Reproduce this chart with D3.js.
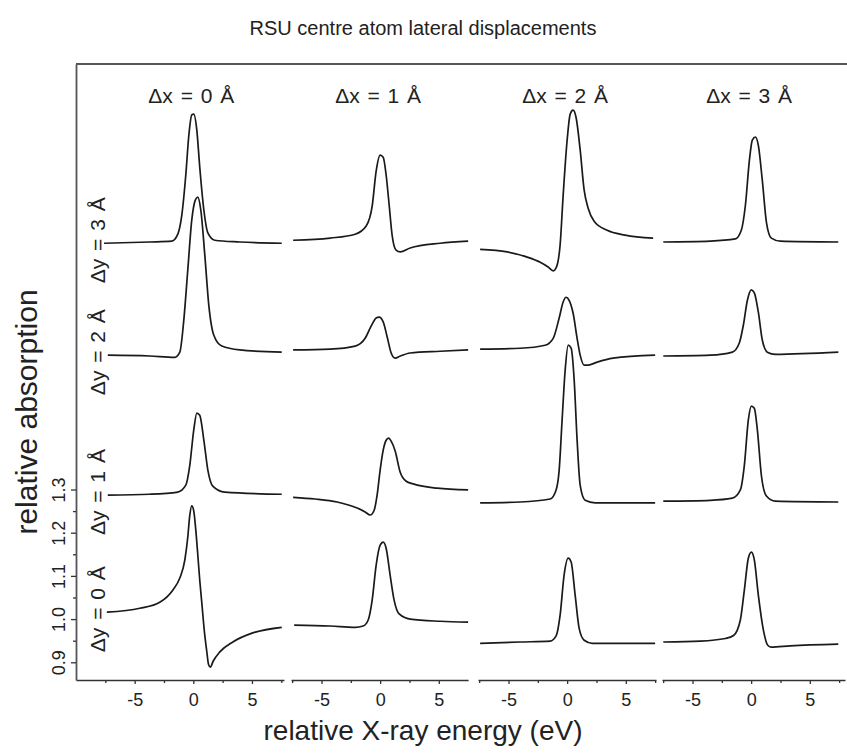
<!DOCTYPE html>
<html>
<head>
<meta charset="utf-8">
<script src="https://cdn.jsdelivr.net/npm/d3@7"></script>
<style>
  body { margin: 0; background: #fff; }
  svg { font-family: "Liberation Sans", Arial, sans-serif; }
</style>
</head>
<body>
<div id="chart"></div>
<script>
// labels and ticks
var title = 'RSU centre atom lateral displacements';
var colLabels = ['Δx = 0 Å', 'Δx = 1 Å', 'Δx = 2 Å', 'Δx = 3 Å'];
var rowLabels = ['Δy = 0 Å', 'Δy = 1 Å', 'Δy = 2 Å', 'Δy = 3 Å'];
var xTicks = [-5, 0, 5];
var xMinorTicks = [-7.5, -2.5, 2.5, 7.5];
var yTicks = [0.9, 1.0, 1.1, 1.2, 1.3];
var yMinorTicks = [0.95, 1.05, 1.15, 1.25];
// energy range shown in each column (eV)
var panelDomains = [[-10, 7.73], [-7.6, 7.5], [-7.6, 7.57], [-7.6, 8.0]];

// spectra: [relative energy (eV), relative absorption], stacked as drawn
var dy0dx0 = [[-7.37,1.016],[-4.56,1.025],[-2.86,1.039],[-1.75,1.067],[-1.15,1.095],[-0.72,1.137],[-0.47,1.190],[-0.3,1.240],[-0.13,1.262],[0.04,1.250],[0.2,1.21],[0.38,1.15],[0.55,1.09],[0.75,1.03],[0.95,0.97],[1.15,0.925],[1.3,0.895],[1.45,0.889],[1.7,0.903],[2.26,0.924],[3.37,0.947],[5.07,0.968],[7.54,0.981]];
var dy0dx1 = [[-7.33,0.986],[-4.26,0.984],[-2.13,0.981],[-1.45,0.984],[-1.02,0.998],[-0.68,1.044],[-0.34,1.125],[0,1.171],[0.26,1.178],[0.51,1.164],[0.85,1.102],[1.19,1.044],[1.62,1.012],[2.56,1.0],[5.12,0.995],[7.5,0.993]];
var dy0dx2 = [[-7.42,0.944],[-4.0,0.947],[-1.45,0.949],[-0.94,0.961],[-0.6,1.009],[-0.26,1.102],[0.09,1.141],[0.34,1.132],[0.68,1.056],[1.02,0.979],[1.45,0.951],[2.13,0.944],[4.5,0.944],[7.5,0.944]];
var dy0dx3 = [[-7.49,0.947],[-4.33,0.949],[-2.2,0.955],[-1.5,0.962],[-0.92,0.998],[-0.58,1.067],[-0.24,1.141],[0.02,1.155],[0.27,1.137],[0.61,1.056],[1.04,0.975],[1.4,0.940],[1.7,0.935],[3.34,0.938],[7.43,0.942]];

var dy1dx0 = [[-7.29,1.287],[-3.71,1.289],[-1.32,1.294],[-0.64,1.31],[-0.3,1.356],[0.04,1.438],[0.3,1.477],[0.55,1.472],[0.9,1.414],[1.24,1.345],[1.66,1.308],[2.69,1.294],[7.54,1.289]];
var dy1dx1 = [[-7.42,1.282],[-5.54,1.278],[-3.67,1.271],[-1.96,1.257],[-1.28,1.248],[-0.85,1.241],[-0.51,1.252],[-0.26,1.287],[0,1.345],[0.26,1.391],[0.51,1.414],[0.72,1.419],[0.94,1.412],[1.28,1.389],[1.71,1.340],[2.22,1.319],[2.81,1.313],[4.86,1.303],[7.5,1.299]];
var dy1dx2 = [[-7.42,1.269],[-4.0,1.271],[-1.45,1.278],[-0.94,1.299],[-0.68,1.345],[-0.43,1.461],[-0.17,1.576],[0.09,1.634],[0.34,1.627],[0.6,1.553],[0.85,1.414],[1.11,1.310],[1.53,1.275],[2.39,1.269],[7.5,1.269]];
var dy1dx3 = [[-7.49,1.273],[-3.48,1.275],[-1.6,1.280],[-0.92,1.299],[-0.58,1.356],[-0.24,1.461],[0.02,1.493],[0.27,1.488],[0.53,1.438],[0.87,1.333],[1.3,1.285],[2.06,1.273],[7.43,1.271]];

var dy2dx0 = [[-7.29,1.611],[-3.71,1.609],[-1.58,1.606],[-1.15,1.618],[-0.81,1.692],[-0.47,1.808],[-0.13,1.924],[0.17,1.970],[0.38,1.977],[0.64,1.947],[0.98,1.843],[1.32,1.727],[1.75,1.657],[2.43,1.632],[3.96,1.623],[7.54,1.618]];
var dy2dx1 = [[-7.42,1.623],[-4.26,1.625],[-2.13,1.632],[-1.28,1.650],[-0.77,1.678],[-0.34,1.697],[-0.09,1.699],[0.26,1.688],[0.6,1.653],[0.94,1.616],[1.28,1.604],[1.71,1.609],[2.56,1.616],[5.12,1.620],[7.5,1.623]];
var dy2dx2 = [[-7.42,1.625],[-4.0,1.627],[-1.88,1.634],[-1.19,1.650],[-0.68,1.697],[-0.34,1.734],[-0.09,1.745],[0.17,1.738],[0.51,1.708],[0.85,1.650],[1.11,1.611],[1.45,1.588],[1.79,1.588],[2.56,1.595],[3.92,1.604],[7.5,1.611]];
var dy2dx3 = [[-7.49,1.609],[-3.48,1.611],[-1.6,1.618],[-1.01,1.639],[-0.66,1.681],[-0.32,1.738],[0.02,1.762],[0.27,1.755],[0.61,1.711],[0.95,1.646],[1.38,1.618],[2.06,1.613],[7.43,1.618]];

var dy3dx0 = [[-7.61,1.870],[-3.71,1.873],[-1.83,1.875],[-1.32,1.891],[-0.98,1.935],[-0.64,2.028],[-0.38,2.120],[-0.13,2.167],[0.04,2.169],[0.3,2.132],[0.55,2.046],[0.9,1.947],[1.24,1.894],[1.83,1.877],[3.96,1.873],[7.54,1.870]];
var dy3dx1 = [[-7.42,1.877],[-4.26,1.882],[-2.13,1.891],[-1.19,1.910],[-0.68,1.956],[-0.34,2.037],[0,2.074],[0.26,2.069],[0.51,2.028],[0.77,1.958],[1.02,1.889],[1.36,1.854],[1.71,1.850],[2.56,1.859],[5.12,1.870],[7.5,1.875]];
var dy3dx2 = [[-7.42,1.856],[-5.12,1.850],[-3.41,1.838],[-2.3,1.826],[-1.62,1.815],[-1.19,1.806],[-0.94,1.813],[-0.6,1.866],[-0.34,1.981],[0,2.109],[0.26,2.169],[0.51,2.178],[0.77,2.160],[1.11,2.086],[1.45,1.993],[1.79,1.951],[2.3,1.921],[3.41,1.900],[4.94,1.889],[7.33,1.882]];
var dy3dx3 = [[-7.49,1.873],[-3.48,1.875],[-1.35,1.880],[-0.84,1.900],[-0.49,1.958],[-0.15,2.062],[0.1,2.109],[0.36,2.116],[0.61,2.097],[0.95,2.016],[1.3,1.919],[1.72,1.882],[2.49,1.875],[7.43,1.873]];

var spectra = [
  [dy0dx0, dy0dx1, dy0dx2, dy0dx3],
  [dy1dx0, dy1dx1, dy1dx2, dy1dx3],
  [dy2dx0, dy2dx1, dy2dx2, dy2dx3],
  [dy3dx0, dy3dx1, dy3dx2, dy3dx3]
];

// layout
var width = 847, height = 755;
var panelLeft = [76, 291, 478, 662];
var pxPerEV = 11.73;
var axisY = 680, frameTop = 64;
var ink = '#333';

var svg = d3.select('#chart').append('svg')
  .attr('width', width)
  .attr('height', height);

var y = d3.scaleLinear().domain([0.859, 2.285]).range([axisY, frameTop]);

var xs = panelDomains.map(function (d, i) {
  return d3.scaleLinear().domain(d)
    .range([panelLeft[i], panelLeft[i] + (d[1] - d[0]) * pxPerEV]);
});

// title
svg.append('text')
  .attr('x', 423).attr('y', 35)
  .attr('text-anchor', 'middle')
  .style('font-size', '20px').style('fill', '#222')
  .text(title);

// frame top line
svg.append('line')
  .attr('x1', panelLeft[0]).attr('x2', width)
  .attr('y1', frameTop).attr('y2', frameTop)
  .style('stroke', '#555').style('stroke-width', 1.8);

// bottom axes, one per column
xs.forEach(function (x, i) {
  var g = svg.append('g')
    .attr('transform', 'translate(0,' + axisY + ')')
    .call(d3.axisBottom(x).tickValues(xTicks).tickSize(4).tickSizeOuter(0)
      .tickPadding(9).tickFormat(function (d) { return String(d); }));
  g.select('.domain').style('stroke', ink).style('stroke-width', 1.6);
  g.selectAll('.tick line').style('stroke', ink).style('stroke-width', 1.3);
  g.selectAll('.tick text').style('font-size', '18px').style('fill', '#222')
    .style('font-family', '"Liberation Sans", Arial, sans-serif');

  var dom = x.domain();
  var minor = svg.append('g')
    .attr('transform', 'translate(0,' + axisY + ')')
    .call(d3.axisBottom(x)
      .tickValues(xMinorTicks.filter(function (t) { return t > dom[0] && t < dom[1]; }))
      .tickSize(3).tickFormat(''));
  minor.select('.domain').remove();
  minor.selectAll('.tick line').style('stroke', ink).style('stroke-width', 1.3);

  // column header
  svg.append('text')
    .attr('x', x(0) - 2).attr('y', 103)
    .attr('text-anchor', 'middle')
    .style('font-size', '21px').style('fill', '#222')
    .style('word-spacing', '2px')
    .text(colLabels[i]);
});

// left axis
var gy = svg.append('g')
  .attr('transform', 'translate(' + panelLeft[0] + ',0)')
  .call(d3.axisLeft(y).tickValues(yTicks).tickSize(5).tickSizeOuter(0)
    .tickFormat(d3.format('.1f')));
gy.select('.domain').style('stroke', '#555').style('stroke-width', 1.8);
gy.selectAll('.tick line').style('stroke', ink).style('stroke-width', 1.3);
gy.selectAll('.tick text')
  .attr('transform', 'rotate(-90)')
  .attr('x', 0).attr('y', -11).attr('dy', 0)
  .attr('text-anchor', 'middle')
  .style('font-size', '18px').style('fill', '#222')
  .style('font-family', '"Liberation Sans", Arial, sans-serif');

var gyMinor = svg.append('g')
  .attr('transform', 'translate(' + panelLeft[0] + ',0)')
  .call(d3.axisLeft(y).tickValues(yMinorTicks).tickSize(3).tickFormat(''));
gyMinor.select('.domain').remove();
gyMinor.selectAll('.tick line').style('stroke', ink).style('stroke-width', 1.3);

// row labels
rowLabels.forEach(function (label, r) {
  svg.append('text')
    .attr('transform', 'translate(105,' + (y(spectra[r][0][0][1]) - 3) + ') rotate(-90)')
    .attr('text-anchor', 'middle')
    .style('font-size', '21px').style('fill', '#222')
    .style('word-spacing', '2px')
    .text(label);
});

// spectra
var line = d3.line().curve(d3.curveMonotoneX);
spectra.forEach(function (row) {
  row.forEach(function (data, c) {
    line.x(function (d) { return xs[c](d[0]); })
        .y(function (d) { return y(d[1]); });
    svg.append('path')
      .datum(data)
      .attr('d', line)
      .style('fill', 'none')
      .style('stroke', '#1a1a1a')
      .style('stroke-width', 1.7);
  });
});

// axis titles
svg.append('text')
  .attr('x', 423).attr('y', 740)
  .attr('text-anchor', 'middle')
  .style('font-size', '28px').style('fill', '#222')
  .text('relative X-ray energy (eV)');

svg.append('text')
  .attr('transform', 'translate(37,412) rotate(-90)')
  .attr('text-anchor', 'middle')
  .style('font-size', '30px').style('fill', '#222')
  .text('relative absorption');
</script>
</body>
</html>
